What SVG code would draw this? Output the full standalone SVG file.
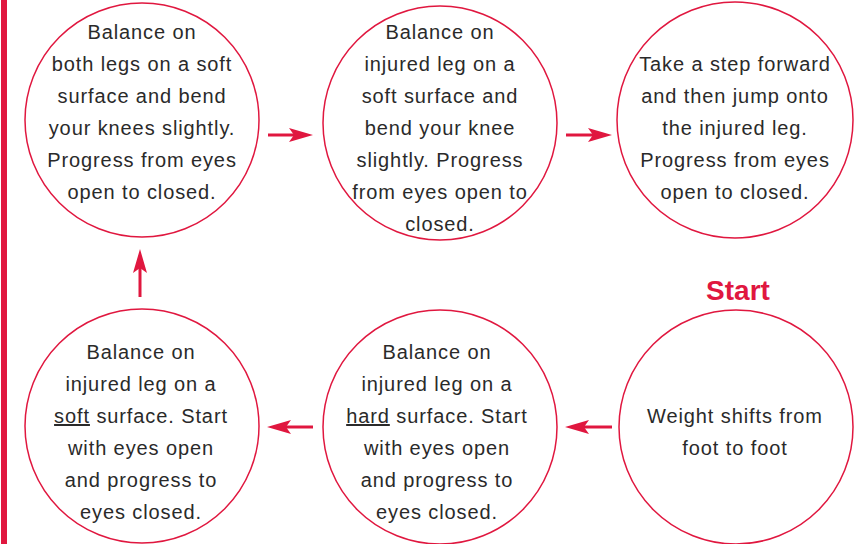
<svg xmlns="http://www.w3.org/2000/svg" width="859" height="544" viewBox="0 0 859 544">
<style>
.c{fill:#fff;stroke:#e0173f;stroke-width:1.5}
.t{font-family:"Liberation Sans",Arial,sans-serif;font-size:20px;letter-spacing:0.9px;fill:#2a2a2a;text-anchor:middle}
.u{text-decoration:underline}
.a{stroke:#e0173f;stroke-width:3;fill:none;marker-end:url(#h)}
.s{font-family:"Liberation Sans",Arial,sans-serif;font-size:28px;font-weight:bold;fill:#e0173f;text-anchor:middle}
</style>
<defs>
<marker id="h" markerUnits="userSpaceOnUse" viewBox="-24 -8 26 16" markerWidth="26" markerHeight="16" refX="-15" refY="0" orient="auto">
<path d="M0,0 L-24,-7 L-19,0 L-24,7 Z" fill="#e0173f"/>
</marker>
</defs>
<rect x="1" y="0" width="6" height="544" fill="#e0173f"/>
<g id="connectors">
<line class="a" x1="268" y1="135" x2="298" y2="135"/>
<line class="a" x1="566" y1="135" x2="597" y2="135"/>
<line class="a" x1="612" y1="427" x2="580" y2="427"/>
<line class="a" x1="313" y1="427" x2="282" y2="427"/>
<line class="a" x1="140" y1="297" x2="140" y2="264"/>
</g>
<g id="n1">
<circle class="c" cx="142" cy="120" r="117"/>
<text class="t" x="142"><tspan x="142" y="39">Balance on</tspan><tspan x="142" y="71">both legs on a soft</tspan><tspan x="142" y="103">surface and bend</tspan><tspan x="142" y="135">your knees slightly.</tspan><tspan x="142" y="167">Progress from eyes</tspan><tspan x="142" y="199">open to closed.</tspan></text>
</g>
<g id="n2">
<circle class="c" cx="440" cy="123" r="117"/>
<text class="t" x="440"><tspan x="440" y="39">Balance on</tspan><tspan x="440" y="71">injured leg on a</tspan><tspan x="440" y="103">soft surface and</tspan><tspan x="440" y="135">bend your knee</tspan><tspan x="440" y="167">slightly. Progress</tspan><tspan x="440" y="199">from eyes open to</tspan><tspan x="440" y="231">closed.</tspan></text>
</g>
<g id="n3">
<circle class="c" cx="735" cy="120" r="118"/>
<text class="t" x="735"><tspan x="735" y="71">Take a step forward</tspan><tspan x="735" y="103">and then jump onto</tspan><tspan x="735" y="135">the injured leg.</tspan><tspan x="735" y="167">Progress from eyes</tspan><tspan x="735" y="199">open to closed.</tspan></text>
</g>
<g id="n4">
<text class="s" x="738" y="300">Start</text>
<circle class="c" cx="736" cy="427" r="117"/>
<text class="t" x="735"><tspan x="735" y="423">Weight shifts from</tspan><tspan x="735" y="455">foot to foot</tspan></text>
</g>
<g id="n5">
<circle class="c" cx="440" cy="427" r="117"/>
<text class="t" x="437"><tspan x="437" y="359">Balance on</tspan><tspan x="437" y="391">injured leg on a</tspan><tspan x="437" y="423"><tspan class="u">hard</tspan> surface. Start</tspan><tspan x="437" y="455">with eyes open</tspan><tspan x="437" y="487">and progress to</tspan><tspan x="437" y="519">eyes closed.</tspan></text>
</g>
<g id="n6">
<circle class="c" cx="142" cy="426" r="117"/>
<text class="t" x="141"><tspan x="141" y="359">Balance on</tspan><tspan x="141" y="391">injured leg on a</tspan><tspan x="141" y="423"><tspan class="u">soft</tspan> surface. Start</tspan><tspan x="141" y="455">with eyes open</tspan><tspan x="141" y="487">and progress to</tspan><tspan x="141" y="519">eyes closed.</tspan></text>
</g>
</svg>
